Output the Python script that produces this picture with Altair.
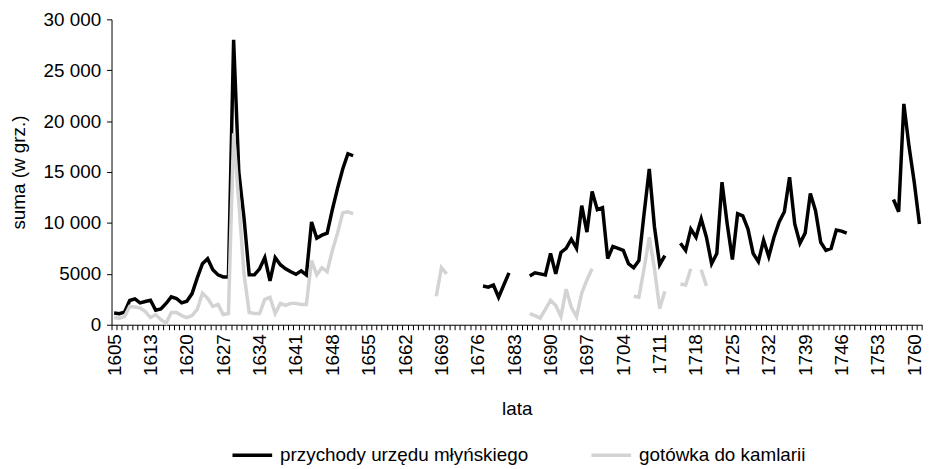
import altair as alt
import pandas as pd

# category axis: one label every 7 categories
tick_labels = ["1605", "1613", "1620", "1627", "1634", "1641", "1648", "1655",
               "1662", "1669", "1676", "1683", "1690", "1697", "1704", "1711",
               "1718", "1725", "1732", "1739", "1746", "1753", "1760"]
n_categories = 156
label_step = 7

N = None
przychody = [
    1150, 1080, 1240, 2380, 2540, 2150, 2280, 2410, 1430, 1560,
    2090, 2740, 2580, 2150, 2310, 3060, 4600, 6000, 6490, 5410,
    4900, 4700, 4700, 28000, 15000, 10500, 4900, 4900, 5500, 6600,
    4300, 6600, 5900, 5500, 5200, 4950, 5300, 4900, 10100, 8500,
    8800, 9000, 11300, 13400, 15300, 16800, 16600, N, N, N,
    N, N, N, N, N, N, N, N, N, N,
    N, N, N, N, N, N, N, N, N, N,
    N, 3800, 3700, 3900, 2700, 3900, 5100, N, N, N,
    4800, 5100, 5000, 4900, 7000, 5000, 7100, 7500, 8400, 7500,
    11700, 9100, 13100, 11300, 11500, 6500, 7700, 7500, 7300, 6000,
    5600, 6300, 10900, 15300, 9600, 5900, 6800, N, N, 8000,
    7300, 9400, 8600, 10400, 8600, 6000, 7000, 14000, 9900, 6400,
    10900, 10700, 9400, 7000, 6200, 8300, 6700, 8600, 10100, 11100,
    14500, 9900, 8000, 9000, 12900, 11200, 8100, 7300, 7500, 9300,
    9200, 9000, N, N, N, N, N, N, N, N,
    12300, 11100, 21700, 17500, 14000, 9900,
]
gotowka = [
    700, 650, 800, 1800, 1750, 1650, 1300, 700, 1000, 500,
    150, 1200, 1200, 900, 700, 900, 1500, 3100, 2600, 1800,
    2000, 1000, 1100, 18800, 12000, 5000, 1200, 1100, 1100, 2500,
    2700, 1100, 2100, 1900, 2100, 2100, 2000, 2000, 6300, 4900,
    5600, 5200, 7300, 9000, 11000, 11100, 10900, N, N, N,
    N, N, N, N, N, N, N, N, N, N,
    N, N, 2800, 5600, 5000, N, N, N, N, N,
    N, N, N, N, N, N, N, N, N, N,
    1100, 900, 650, 1500, 2400, 1900, 800, 3500, 1700, 800,
    3100, 4400, 5500, N, N, N, N, N, N, N,
    2800, 2700, 5500, 8600, 5500, 1600, 3300, N, N, 4000,
    3900, 5500, N, 5400, 3800, N, N, N, N, N,
    N, N, N, N, N, N, N, N, N, N,
    N, N, N, N, N, N, N, N, N, N,
    N, N, N, N, N, N, N, N, N, N,
    N, N, N, N, N, N,
]

series_names = ["przychody urzędu młyńskiego", "gotówka do kamlarii"]
series_colors = ["#000000", "#d3d3d3"]

rows = []
for name, vals in zip(series_names, [przychody, gotowka]):
    for i, v in enumerate(vals):
        rows.append({"idx": i, "value": v, "series": name})
df = pd.DataFrame(rows)

label_df = pd.DataFrame({
    "idx": [i * label_step for i in range(len(tick_labels))],
    "label": tick_labels,
})

FONT = "Liberation Sans"
FS = 19

x_scale = alt.Scale(domain=[-0.5, n_categories - 0.5], nice=False, zero=False)
label_array = "[" + ",".join("'" + t + "'" for t in tick_labels) + "]"

lines = alt.Chart(df).mark_line(
    strokeWidth=3.5, invalid="break-paths-show-domains", strokeJoin="miter", strokeCap="butt"
).encode(
    x=alt.X("idx:Q", scale=x_scale,
            axis=alt.Axis(values=[k - 0.5 for k in range(n_categories + 1)],
                          labels=False, ticks=True, tickSize=5, tickColor="#000000",
                          domainColor="#000000", grid=False, title=None, orient="bottom")),
    y=alt.Y("value:Q", scale=alt.Scale(domain=[0, 30000], nice=False),
            axis=alt.Axis(values=[0, 5000, 10000, 15000, 20000, 25000, 30000],
                          labelExpr="datum.value >= 10000 ? format(datum.value/1000, 'd') + ' 000' : format(datum.value, 'd')",
                          grid=False, tickSize=5, tickColor="#000000", domainColor="#000000",
                          labelPadding=6, title="suma (w grz.)", titleX=-94, titleY=154,
                          titleAlign="center", titleBaseline="middle", titleAngle=270)),
    color=alt.Color("series:N",
                    scale=alt.Scale(domain=series_names, range=series_colors),
                    legend=alt.Legend(title=None, orient="none", direction="horizontal",
                                      legendX=120, legendY=417.5, symbolType="stroke",
                                      symbolSize=1600, symbolStrokeWidth=3.5,
                                      labelFontSize=FS, labelFont=FONT, labelColor="#000000",
                                      columnPadding=56, labelOffset=6, padding=0)),
)

labels = alt.Chart(label_df).mark_rule(opacity=0).encode(
    x=alt.X("idx:Q", scale=x_scale,
            axis=alt.Axis(values=[i * label_step for i in range(len(tick_labels))],
                          labelExpr=label_array + "[round(datum.value/" + str(label_step) + ")]",
                          ticks=False, domain=False, labelAngle=-90, labelAlign="right",
                          labelBaseline="middle", labelPadding=9, grid=False,
                          title="lata", titleY=85, titleBaseline="middle", orient="bottom")),
)

chart = alt.layer(lines, labels).resolve_axis(x="independent").resolve_scale(x="shared").properties(
    width=817.4, height=308,
    autosize=alt.AutoSizeParams(type="none"),
    padding={"left": 104.4, "top": 9.5, "right": 5, "bottom": 139.5},
).configure_view(stroke=None).configure_axis(
    labelFont=FONT, titleFont=FONT, labelFontSize=FS, titleFontSize=FS,
    labelColor="#000000", titleColor="#000000", titleFontWeight="normal",
).configure_legend(labelLimit=0)

chart.save("out.html", embed_options={"renderer": "svg", "actions": False})
